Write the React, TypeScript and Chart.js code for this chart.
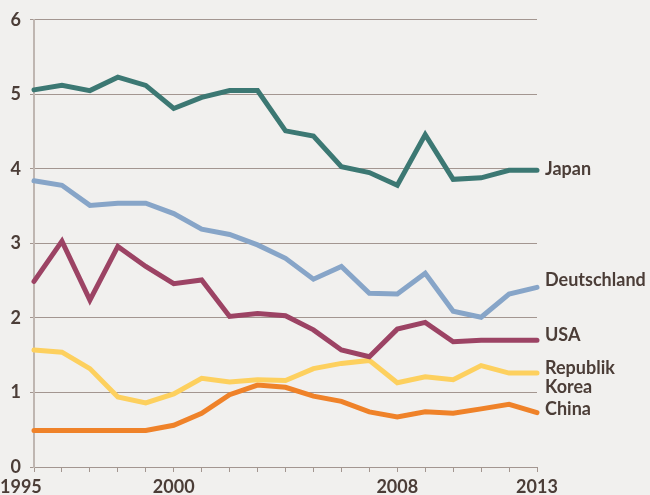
import React, { useEffect, useRef } from "react";
import { Chart, registerables } from "chart.js";

Chart.register(...registerables);

const years = ["1995","1996","1997","1998","1999","2000","2001","2002","2003","2004","2005","2006","2007","2008","2009","2010","2011","2012","2013"];
const shownYearLabels = ["1995", "2000", "2008", "2013"];
const yTicks = [0, 1, 2, 3, 4, 5, 6];

const japan = [5.06, 5.12, 5.05, 5.23, 5.12, 4.81, 4.96, 5.05, 5.05, 4.51, 4.44, 4.03, 3.95, 3.78, 4.46, 3.86, 3.88, 3.98, 3.98];
const deutschland = [3.84, 3.78, 3.51, 3.54, 3.54, 3.40, 3.19, 3.12, 2.98, 2.80, 2.52, 2.69, 2.33, 2.32, 2.60, 2.09, 2.01, 2.32, 2.41];
const usa = [2.49, 3.03, 2.24, 2.96, 2.69, 2.46, 2.51, 2.02, 2.06, 2.03, 1.84, 1.57, 1.48, 1.85, 1.94, 1.68, 1.70, 1.70, 1.70];
const korea = [1.57, 1.54, 1.32, 0.94, 0.86, 0.98, 1.19, 1.14, 1.17, 1.16, 1.32, 1.39, 1.43, 1.13, 1.21, 1.17, 1.36, 1.26, 1.26];
const china = [0.49, 0.49, 0.49, 0.49, 0.49, 0.56, 0.72, 0.97, 1.10, 1.07, 0.95, 0.88, 0.74, 0.67, 0.74, 0.72, 0.78, 0.84, 0.73];

const seriesNames = ["Japan", "Deutschland", "USA", "Republik\nKorea", "China"];

const BG = "#f1f0ee";
const TEXT = "#4b3d37";
const GRID = "#a39690";
const AXIS = "#bfb6b1";
const FONT = "Lato, 'Noto Sans', sans-serif";
const FONT_SIZE = 18;

const styles = [
  { color: "#3c7873", labelDy: [-1] },
  { color: "#87a5c8", labelDy: [-7] },
  { color: "#9c4364", labelDy: [-5] },
  { color: "#fdd05e", labelDy: [-5, 14] },
  { color: "#ef8229", labelDy: [-3] },
];

const endLabels = {
  id: "endLabels",
  afterDatasetsDraw(chart: any) {
    const ctx = chart.ctx;
    ctx.save();
    ctx.font = `bold ${FONT_SIZE}px ${FONT}`;
    ctx.fillStyle = TEXT;
    ctx.textAlign = "left";
    ctx.textBaseline = "middle";
    chart.data.datasets.forEach((ds: any, i: number) => {
      const meta = chart.getDatasetMeta(i);
      const last = meta.data[meta.data.length - 1];
      if (!last) return;
      const lines = String(ds.label).split("\n");
      lines.forEach((line: string, j: number) => {
        ctx.fillText(line, last.x + 8, last.y + styles[i].labelDy[j]);
      });
    });
    ctx.restore();
  },
};

const shiftFirstLabel = {
  id: "shiftFirstLabel",
  beforeDraw(chart: any) {
    const xs = chart.scales.x;
    if (!xs || !xs.getLabelItems) return;
    const items = xs.getLabelItems(chart.chartArea);
    items.forEach((it: any) => {
      if (it.label === shownYearLabels[0]) {
        it.options.textAlign = "left";
        it.options.translation = [0, it.options.translation[1]];
      }
    });
  },
};

export default function App() {
  const ref = useRef<HTMLCanvasElement | null>(null);

  useEffect(() => {
    document.body.style.margin = "0";
    document.body.style.background = BG;
    if (!ref.current) return;
    const values = [japan, deutschland, usa, korea, china];
    const chart = new Chart(ref.current, {
      type: "line",
      data: {
        labels: years,
        datasets: values.map((v, i) => ({
          label: seriesNames[i],
          data: v,
          borderColor: styles[i].color,
          backgroundColor: styles[i].color,
          borderWidth: 5,
          pointRadius: 0,
          tension: 0,
          borderCapStyle: "round" as const,
          borderJoinStyle: "miter" as const,
          clip: false as any,
        })),
      },
      options: {
        animation: false,
        responsive: false,
        maintainAspectRatio: false,
        layout: { padding: { left: 0, right: 113, top: 17, bottom: 0 } },
        plugins: {
          legend: { display: false },
          tooltip: { enabled: false },
        },
        scales: {
          x: {
            type: "category",
            offset: false,
            grid: {
              display: true,
              drawOnChartArea: false,
              drawTicks: true,
              tickLength: 5,
              color: GRID,
              lineWidth: 1,
            },
            border: { display: false },
            ticks: {
              autoSkip: false,
              maxRotation: 0,
              minRotation: 0,
              padding: 4,
              color: TEXT,
              font: { family: FONT, size: FONT_SIZE, weight: "bold" },
              callback: (_v: any, idx: number) =>
                shownYearLabels.includes(years[idx]) ? years[idx] : "",
            },
            afterFit: (s: any) => {
              s.height = 28;
            },
          },
          y: {
            min: yTicks[0],
            max: yTicks[yTicks.length - 1],
            afterBuildTicks: (s: any) => {
              s.ticks = yTicks.map((v) => ({ value: v }));
            },
            grid: {
              color: GRID,
              lineWidth: 1,
              drawTicks: true,
              tickLength: 4,
            },
            border: { display: true, color: AXIS, width: 2 },
            ticks: {
              padding: 9,
              color: TEXT,
              font: { family: FONT, size: FONT_SIZE, weight: "bold" },
            },
            afterFit: (s: any) => {
              s.width = 34;
            },
          },
        },
      },
      plugins: [endLabels, shiftFirstLabel],
    });
    return () => chart.destroy();
  }, []);

  return (
    <div style={{ position: "fixed", inset: 0, background: BG }}>
      <canvas ref={ref} width={650} height={495} style={{ display: "block" }} />
    </div>
  );
}
